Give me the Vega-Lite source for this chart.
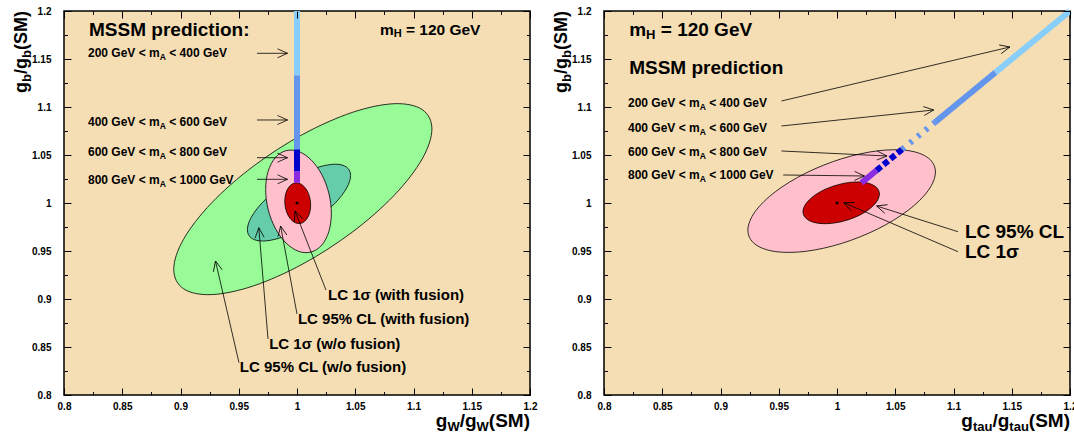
{
"$schema": "https://vega.github.io/schema/vega-lite/v6.json",
"padding": {"left": 12, "top": 5, "right": 0, "bottom": 0},
"spacing": 74,
"bounds": "flush",
"datasets": {
"ell": [
{"p":"L","s":"g","i":0,"x":1.1158,"y":1.0771},{"p":"L","s":"g","i":1,"x":1.10737,"y":1.09737},{"p":"L","s":"g","i":2,"x":1.08335,"y":1.10342},{"p":"L","s":"g","i":3,"x":1.0474,"y":1.09434},{"p":"L","s":"g","i":4,"x":1.005,"y":1.0715},{"p":"L","s":"g","i":5,"x":0.9626,"y":1.03838},{"p":"L","s":"g","i":6,"x":0.92665,"y":1.00004},{"p":"L","s":"g","i":7,"x":0.90263,"y":0.96229},{"p":"L","s":"g","i":8,"x":0.8942,"y":0.9309},{"p":"L","s":"g","i":9,"x":0.90263,"y":0.91063},{"p":"L","s":"g","i":10,"x":0.92665,"y":0.90458},{"p":"L","s":"g","i":11,"x":0.9626,"y":0.91366},{"p":"L","s":"g","i":12,"x":1.005,"y":0.9365},{"p":"L","s":"g","i":13,"x":1.0474,"y":0.96962},{"p":"L","s":"g","i":14,"x":1.08335,"y":1.00796},{"p":"L","s":"g","i":15,"x":1.10737,"y":1.04571},
{"p":"L","s":"t","i":0,"x":1.046,"y":1.0286},{"p":"L","s":"t","i":1,"x":1.04263,"y":1.03732},{"p":"L","s":"t","i":2,"x":1.03302,"y":1.04042},{"p":"L","s":"t","i":3,"x":1.01865,"y":1.03743},{"p":"L","s":"t","i":4,"x":1.0017,"y":1.0288},{"p":"L","s":"t","i":5,"x":0.98475,"y":1.01585},{"p":"L","s":"t","i":6,"x":0.97038,"y":1.00054},{"p":"L","s":"t","i":7,"x":0.96077,"y":0.98522},{"p":"L","s":"t","i":8,"x":0.9574,"y":0.9722},{"p":"L","s":"t","i":9,"x":0.96077,"y":0.96348},{"p":"L","s":"t","i":10,"x":0.97038,"y":0.96038},{"p":"L","s":"t","i":11,"x":0.98475,"y":0.96337},{"p":"L","s":"t","i":12,"x":1.0017,"y":0.972},{"p":"L","s":"t","i":13,"x":1.01865,"y":0.98495},{"p":"L","s":"t","i":14,"x":1.03302,"y":1.00026},{"p":"L","s":"t","i":15,"x":1.04263,"y":1.01558},
{"p":"L","s":"p","i":0,"x":1.0295,"y":0.9893},{"p":"L","s":"p","i":1,"x":1.02735,"y":1.01014},{"p":"L","s":"p","i":2,"x":1.02124,"y":1.0297},{"p":"L","s":"p","i":3,"x":1.01209,"y":1.04499},{"p":"L","s":"p","i":4,"x":1.0013,"y":1.0537},{"p":"L","s":"p","i":5,"x":0.99051,"y":1.05449},{"p":"L","s":"p","i":6,"x":0.98136,"y":1.04724},{"p":"L","s":"p","i":7,"x":0.97525,"y":1.03306},{"p":"L","s":"p","i":8,"x":0.9731,"y":1.0141},{"p":"L","s":"p","i":9,"x":0.97525,"y":0.99326},{"p":"L","s":"p","i":10,"x":0.98136,"y":0.9737},{"p":"L","s":"p","i":11,"x":0.99051,"y":0.95841},{"p":"L","s":"p","i":12,"x":1.0013,"y":0.9497},{"p":"L","s":"p","i":13,"x":1.01209,"y":0.94891},{"p":"L","s":"p","i":14,"x":1.02124,"y":0.95616},{"p":"L","s":"p","i":15,"x":1.02735,"y":0.97034},
{"p":"L","s":"r","i":0,"x":1.0117,"y":0.9978},{"p":"L","s":"r","i":1,"x":1.01086,"y":1.00602},{"p":"L","s":"r","i":2,"x":1.00845,"y":1.01331},{"p":"L","s":"r","i":3,"x":1.00485,"y":1.01852},{"p":"L","s":"r","i":4,"x":1.0006,"y":1.0209},{"p":"L","s":"r","i":5,"x":0.99635,"y":1.02006},{"p":"L","s":"r","i":6,"x":0.99275,"y":1.01613},{"p":"L","s":"r","i":7,"x":0.99034,"y":1.00972},{"p":"L","s":"r","i":8,"x":0.9895,"y":1.0018},{"p":"L","s":"r","i":9,"x":0.99034,"y":0.99358},{"p":"L","s":"r","i":10,"x":0.99275,"y":0.98629},{"p":"L","s":"r","i":11,"x":0.99635,"y":0.98108},{"p":"L","s":"r","i":12,"x":1.0006,"y":0.9787},{"p":"L","s":"r","i":13,"x":1.00485,"y":0.97954},{"p":"L","s":"r","i":14,"x":1.00845,"y":0.98347},{"p":"L","s":"r","i":15,"x":1.01086,"y":0.98988},
{"p":"R","s":"p","i":0,"x":1.0845,"y":1.0323},{"p":"R","s":"p","i":1,"x":1.07837,"y":1.04687},{"p":"R","s":"p","i":2,"x":1.06092,"y":1.05461},{"p":"R","s":"p","i":3,"x":1.03481,"y":1.05434},{"p":"R","s":"p","i":4,"x":1.004,"y":1.0461},{"p":"R","s":"p","i":5,"x":0.97319,"y":1.03114},{"p":"R","s":"p","i":6,"x":0.94708,"y":1.01175},{"p":"R","s":"p","i":7,"x":0.92963,"y":0.99089},{"p":"R","s":"p","i":8,"x":0.9235,"y":0.9717},{"p":"R","s":"p","i":9,"x":0.92963,"y":0.95713},{"p":"R","s":"p","i":10,"x":0.94708,"y":0.94939},{"p":"R","s":"p","i":11,"x":0.97319,"y":0.94966},{"p":"R","s":"p","i":12,"x":1.004,"y":0.9579},{"p":"R","s":"p","i":13,"x":1.03481,"y":0.97286},{"p":"R","s":"p","i":14,"x":1.06092,"y":0.99225},{"p":"R","s":"p","i":15,"x":1.07837,"y":1.01311},
{"p":"R","s":"r","i":0,"x":1.0364,"y":1.0094},{"p":"R","s":"r","i":1,"x":1.0339,"y":1.01624},{"p":"R","s":"r","i":2,"x":1.02679,"y":1.02064},{"p":"R","s":"r","i":3,"x":1.01615,"y":1.02192},{"p":"R","s":"r","i":4,"x":1.0036,"y":1.0199},{"p":"R","s":"r","i":5,"x":0.99105,"y":1.01488},{"p":"R","s":"r","i":6,"x":0.98041,"y":1.00762},{"p":"R","s":"r","i":7,"x":0.9733,"y":0.99924},{"p":"R","s":"r","i":8,"x":0.9708,"y":0.991},{"p":"R","s":"r","i":9,"x":0.9733,"y":0.98416},{"p":"R","s":"r","i":10,"x":0.98041,"y":0.97976},{"p":"R","s":"r","i":11,"x":0.99105,"y":0.97848},{"p":"R","s":"r","i":12,"x":1.0036,"y":0.9805},{"p":"R","s":"r","i":13,"x":1.01615,"y":0.98552},{"p":"R","s":"r","i":14,"x":1.02679,"y":0.99278},{"p":"R","s":"r","i":15,"x":1.0339,"y":1.00116}
],
"seg": [
{"p":"L","b":"pu","pat":"s","x":1,"y":1.021,"x2":1,"y2":1.033},
{"p":"L","b":"mb","pat":"s","x":1,"y":1.033,"x2":1,"y2":1.056},
{"p":"L","b":"cf","pat":"s","x":1,"y":1.056,"x2":1,"y2":1.133},
{"p":"L","b":"lb","pat":"s","x":1,"y":1.133,"x2":1,"y2":1.2},
{"p":"R","b":"pu","pat":"s","x":1.021,"y":1.021,"x2":1.034,"y2":1.034},
{"p":"R","b":"mb","pat":"d","x":1.034,"y":1.034,"x2":1.056,"y2":1.056},
{"p":"R","b":"cf","pat":"o","x":1.056,"y":1.056,"x2":1.084,"y2":1.084},
{"p":"R","b":"cf","pat":"s","x":1.084,"y":1.084,"x2":1.136,"y2":1.136},
{"p":"R","b":"lb","pat":"s","x":1.136,"y":1.136,"x2":1.2,"y2":1.2}
],
"arr": [
{"p":"L","x":0.96567,"y":1.15594,"x2":0.99185,"y2":1.15594,"ang":0},
{"p":"L","x":0.96567,"y":1.08646,"x2":0.99185,"y2":1.08646,"ang":0},
{"p":"L","x":0.96567,"y":1.04719,"x2":0.99185,"y2":1.04719,"ang":0},
{"p":"L","x":0.96567,"y":1.02469,"x2":0.99185,"y2":1.02469,"ang":0},
{"p":"L","x":1.02489,"y":0.90938,"x2":0.99828,"y2":0.99167,"ang":248.6},
{"p":"L","x":1.0,"y":0.88438,"x2":0.98592,"y2":0.97604,"ang":259.4},
{"p":"L","x":0.97511,"y":0.85833,"x2":0.96721,"y2":0.97427,"ang":265.3},
{"p":"L","x":0.95021,"y":0.83365,"x2":0.93004,"y2":0.93958,"ang":257},
{"p":"R","x":0.95236,"y":1.10625,"x2":1.14841,"y2":1.1625,"ang":346.7},
{"p":"R","x":0.95236,"y":1.08021,"x2":1.083,"y2":1.09688,"ang":354},
{"p":"R","x":0.95236,"y":1.05417,"x2":1.04292,"y2":1.04896,"ang":2.7},
{"p":"R","x":0.95382,"y":1.02917,"x2":1.02361,"y2":1.02813,"ang":0.7},
{"p":"R","x":1.10386,"y":0.9701,"x2":1.03399,"y2":0.99688,"ang":197.5},
{"p":"R","x":1.10386,"y":0.94927,"x2":1.00584,"y2":1.00031,"ang":203.2}
],
"star": [{"p":"L","x":1,"y":1},{"p":"R","x":1,"y":1}],
"txt": [
{"p":"L","t":"MSSM prediction:","k":"big","x":0.8215,"y":1.1802},
{"p":"L","t":"m","k":"mh","x":1.07116,"y":1.1799},
{"p":"L","t":"H","k":"mhs","x":1.08301,"y":1.1757},
{"p":"L","t":"= 120 GeV","k":"mh","x":1.09348,"y":1.1799},
{"p":"L","t":"200 GeV < m","k":"ma","x":0.8206,"y":1.15594},
{"p":"L","t":"A","k":"mas","x":0.88216,"y":1.15194},
{"p":"L","t":"< 400 GeV","k":"ma","x":0.89029,"y":1.15594},
{"p":"L","t":"400 GeV < m","k":"ma","x":0.8206,"y":1.08438},
{"p":"L","t":"A","k":"mas","x":0.88216,"y":1.08038},
{"p":"L","t":"< 600 GeV","k":"ma","x":0.89029,"y":1.08438},
{"p":"L","t":"600 GeV < m","k":"ma","x":0.8206,"y":1.05344},
{"p":"L","t":"A","k":"mas","x":0.88216,"y":1.04944},
{"p":"L","t":"< 800 GeV","k":"ma","x":0.89029,"y":1.05344},
{"p":"L","t":"800 GeV < m","k":"ma","x":0.8206,"y":1.02396},
{"p":"L","t":"A","k":"mas","x":0.88216,"y":1.01996},
{"p":"L","t":"< 1000 GeV","k":"ma","x":0.89029,"y":1.02396},
{"p":"L","t":"LC 1σ (with fusion)","k":"lc","x":1.02661,"y":0.90385},
{"p":"L","t":"LC 95% CL (with fusion)","k":"lc","x":1.00077,"y":0.87885},
{"p":"L","t":"LC 1σ (w/o fusion)","k":"lc","x":0.97614,"y":0.85344},
{"p":"L","t":"LC 95% CL (w/o fusion)","k":"lc","x":0.9509,"y":0.82917},
{"p":"R","t":"m","k":"mhR","x":0.82163,"y":1.1799},
{"p":"R","t":"H","k":"mhRs","x":0.83613,"y":1.1747},
{"p":"R","t":"= 120 GeV","k":"mhR","x":0.84872,"y":1.1799},
{"p":"R","t":"MSSM prediction","k":"big","x":0.82163,"y":1.14094},
{"p":"R","t":"200 GeV < m","k":"ma","x":0.8206,"y":1.10385},
{"p":"R","t":"A","k":"mas","x":0.88216,"y":1.09985},
{"p":"R","t":"< 400 GeV","k":"ma","x":0.89029,"y":1.10385},
{"p":"R","t":"400 GeV < m","k":"ma","x":0.8206,"y":1.07844},
{"p":"R","t":"A","k":"mas","x":0.88216,"y":1.07444},
{"p":"R","t":"< 600 GeV","k":"ma","x":0.89029,"y":1.07844},
{"p":"R","t":"600 GeV < m","k":"ma","x":0.8206,"y":1.05344},
{"p":"R","t":"A","k":"mas","x":0.88216,"y":1.04944},
{"p":"R","t":"< 800 GeV","k":"ma","x":0.89029,"y":1.05344},
{"p":"R","t":"800 GeV < m","k":"ma","x":0.8206,"y":1.02917},
{"p":"R","t":"A","k":"mas","x":0.88216,"y":1.02517},
{"p":"R","t":"< 1000 GeV","k":"ma","x":0.89029,"y":1.02917},
{"p":"R","t":"LC 95% CL","k":"lcR","x":1.10979,"y":0.9701},
{"p":"R","t":"LC 1σ","k":"lcR","x":1.10979,"y":0.94927}
],
"ttl": [
{"p":"L","ax":"x","t":"(SM)","k":"xt","x":1.2,"y":0.76667},
{"p":"L","ax":"x","t":"W","k":"xts","x":1.16468,"y":0.7625},
{"p":"L","ax":"x","t":"/g","k":"xt","x":1.15415,"y":0.76667},
{"p":"L","ax":"x","t":"W","k":"xts","x":1.13965,"y":0.7625},
{"p":"L","ax":"x","t":"g","k":"xt","x":1.12912,"y":0.76667},
{"p":"R","ax":"x","t":"(SM)","k":"xt","x":1.2,"y":0.76667},
{"p":"R","ax":"x","t":"tau","k":"xts","x":1.16468,"y":0.7625},
{"p":"R","ax":"x","t":"/g","k":"xt","x":1.14794,"y":0.76667},
{"p":"R","ax":"x","t":"tau","k":"xts","x":1.13344,"y":0.7625},
{"p":"R","ax":"x","t":"g","k":"xt","x":1.1167,"y":0.76667},
{"p":"L","ax":"y","t":"(SM)","k":"yt","x":0.76824,"y":1.2},
{"p":"L","ax":"y","t":"b","k":"yts","x":0.77167,"y":1.15938},
{"p":"L","ax":"y","t":"/g","k":"yt","x":0.76824,"y":1.1511},
{"p":"L","ax":"y","t":"b","k":"yts","x":0.77167,"y":1.13444},
{"p":"L","ax":"y","t":"g","k":"yt","x":0.76824,"y":1.12617},
{"p":"R","ax":"y","t":"(SM)","k":"yt","x":0.76824,"y":1.2},
{"p":"R","ax":"y","t":"b","k":"yts","x":0.77167,"y":1.15938},
{"p":"R","ax":"y","t":"/g","k":"yt","x":0.76824,"y":1.1511},
{"p":"R","ax":"y","t":"b","k":"yts","x":0.77167,"y":1.13444},
{"p":"R","ax":"y","t":"g","k":"yt","x":0.76824,"y":1.12617}
]
},
"hconcat": [
{
"width": 466, "height": 384,
"layer": [
{"data": {"name": "ell"}, "transform": [{"filter": "datum.p == 'L'"}],
 "mark": {"type": "line", "interpolate": "cardinal-closed", "stroke": "black", "strokeWidth": 0.8},
 "encoding": {
  "x": {"field": "x", "type": "quantitative", "scale": {"domain": [0.8, 1.2], "nice": false, "zero": false},
        "axis": {"orient": "bottom", "values": [0.8,0.825,0.85,0.875,0.9,0.925,0.95,0.975,1,1.025,1.05,1.075,1.1,1.125,1.15,1.175,1.2], "tickSize": {"condition": {"test": "round(datum.value*1000) % 50 == 0", "value": -7}, "value": -3.5}, "labelExpr": "round(datum.value*1000) % 50 == 0 ? '' + datum.value : ''", "labelPadding": 13, "labelFont": "Liberation Sans", "labelFontWeight": "bold", "labelFontSize": 10, "labelColor": "black", "tickColor": "black", "tickWidth": 1, "domain": false, "grid": false, "title": null, "labelOverlap": false, "labelFlush": false, "zindex": 1}},
  "y": {"field": "y", "type": "quantitative", "scale": {"domain": [0.8, 1.2], "nice": false, "zero": false},
        "axis": {"orient": "left", "values": [0.8,0.825,0.85,0.875,0.9,0.925,0.95,0.975,1,1.025,1.05,1.075,1.1,1.125,1.15,1.175,1.2], "tickSize": {"condition": {"test": "round(datum.value*1000) % 50 == 0", "value": -7}, "value": -3.5}, "labelExpr": "round(datum.value*1000) % 50 == 0 ? '' + datum.value : ''", "labelPadding": 20, "labelFont": "Liberation Sans", "labelFontWeight": "bold", "labelFontSize": 10, "labelColor": "black", "tickColor": "black", "tickWidth": 1, "domain": false, "grid": false, "title": null, "labelOverlap": false, "labelFlush": false, "zindex": 1}},
  "fill": {"field": "s", "type": "nominal", "scale": {"domain": ["g","t","p","r"], "range": ["#98fb98","#66cdaa","#ffc0cb","#cc0000"]}, "legend": null},
  "order": {"field": "i", "type": "quantitative"}
 }},
{"data": {"name": "seg"}, "transform": [{"filter": "datum.p == 'L'"}],
 "mark": {"type": "rule", "strokeWidth": 6, "strokeCap": "butt"},
 "encoding": {
  "x": {"field": "x", "type": "quantitative", "scale": {"domain": [0.8, 1.2], "nice": false, "zero": false}, "axis": null},
  "y": {"field": "y", "type": "quantitative", "scale": {"domain": [0.8, 1.2], "nice": false, "zero": false}, "axis": null},
  "x2": {"field": "x2"}, "y2": {"field": "y2"},
  "color": {"field": "b", "type": "nominal", "scale": {"domain": ["lb","cf","mb","pu"], "range": ["#87cefa","#6495ed","#0000cd","#8a2be2"]}, "legend": null},
  "strokeDash": {"field": "pat", "type": "nominal", "scale": {"domain": ["s","d","o"], "range": [[1,0],[6,3],[3,7]]}, "legend": null}
 }},
{"data": {"name": "arr"}, "transform": [{"filter": "datum.p == 'L'"}],
 "mark": {"type": "rule", "strokeWidth": 0.8, "color": "black"},
 "encoding": {
  "x": {"field": "x", "type": "quantitative", "scale": {"domain": [0.8, 1.2], "nice": false, "zero": false}, "axis": null},
  "y": {"field": "y", "type": "quantitative", "scale": {"domain": [0.8, 1.2], "nice": false, "zero": false}, "axis": null},
  "x2": {"field": "x2"}, "y2": {"field": "y2"}
 }},
{"data": {"name": "arr"}, "transform": [{"filter": "datum.p == 'L'"}],
 "mark": {"type": "point", "shape": "M-2,-0.9L0,0L-2,0.9", "filled": false, "color": "black", "strokeWidth": 0.8, "size": 100, "opacity": 1},
 "encoding": {
  "x": {"field": "x2", "type": "quantitative", "scale": {"domain": [0.8, 1.2], "nice": false, "zero": false}, "axis": null},
  "y": {"field": "y2", "type": "quantitative", "scale": {"domain": [0.8, 1.2], "nice": false, "zero": false}, "axis": null},
  "angle": {"field": "ang", "type": "quantitative", "scale": null}
 }},
{"data": {"name": "star"}, "transform": [{"filter": "datum.p == 'L'"}],
 "mark": {"type": "point", "shape": "cross", "filled": true, "color": "black", "size": 10, "opacity": 1},
 "encoding": {
  "x": {"field": "x", "type": "quantitative", "scale": {"domain": [0.8, 1.2], "nice": false, "zero": false},
        "axis": {"orient": "top", "values": [0.8,0.825,0.85,0.875,0.9,0.925,0.95,0.975,1,1.025,1.05,1.075,1.1,1.125,1.15,1.175,1.2], "tickSize": {"condition": {"test": "round(datum.value*1000) % 50 == 0", "value": -7}, "value": -3.5}, "labels": false, "tickColor": "black", "tickWidth": 1, "domain": false, "grid": false, "title": null, "zindex": 1}},
  "y": {"field": "y", "type": "quantitative", "scale": {"domain": [0.8, 1.2], "nice": false, "zero": false},
        "axis": {"orient": "right", "values": [0.8,0.825,0.85,0.875,0.9,0.925,0.95,0.975,1,1.025,1.05,1.075,1.1,1.125,1.15,1.175,1.2], "tickSize": {"condition": {"test": "round(datum.value*1000) % 50 == 0", "value": -7}, "value": -3.5}, "labels": false, "tickColor": "black", "tickWidth": 1, "domain": false, "grid": false, "title": null, "zindex": 1}}
 }},
{"data": {"name": "txt"}, "transform": [{"filter": "datum.p == 'L'"}],
 "mark": {"type": "text", "align": "left", "baseline": "middle", "font": "Liberation Sans", "fontWeight": "bold", "color": "black"},
 "encoding": {
  "x": {"field": "x", "type": "quantitative", "scale": {"domain": [0.8, 1.2], "nice": false, "zero": false}, "axis": null},
  "y": {"field": "y", "type": "quantitative", "scale": {"domain": [0.8, 1.2], "nice": false, "zero": false}, "axis": null},
  "text": {"field": "t"},
  "size": {"field": "k", "type": "nominal", "scale": {"type": "ordinal", "domain": ["big","mh","mhs","mhR","mhRs","ma","mas","lc","lcR","xt","xts","yt","yts"], "range": [19,15.5,11,19,13,12,8.5,15,19,19,13,18,13]}, "legend": null}
 }},
{"data": {"name": "ttl"}, "transform": [{"filter": "datum.p == 'L' && datum.ax == 'x'"}],
 "mark": {"type": "text", "align": "right", "baseline": "alphabetic", "font": "Liberation Sans", "fontWeight": "bold", "color": "black"},
 "encoding": {
  "x": {"field": "x", "type": "quantitative", "scale": {"domain": [0.8, 1.2], "nice": false, "zero": false}, "axis": null},
  "y": {"field": "y", "type": "quantitative", "scale": {"domain": [0.8, 1.2], "nice": false, "zero": false}, "axis": null},
  "text": {"field": "t"},
  "size": {"field": "k", "type": "nominal", "scale": {"type": "ordinal", "domain": ["big","mh","mhs","mhR","mhRs","ma","mas","lc","lcR","xt","xts","yt","yts"], "range": [19,15.5,11,19,13,12,8.5,15,19,19,13,18,13]}, "legend": null}
 }},
{"data": {"name": "ttl"}, "transform": [{"filter": "datum.p == 'L' && datum.ax == 'y'"}],
 "mark": {"type": "text", "align": "right", "baseline": "alphabetic", "angle": 270, "font": "Liberation Sans", "fontWeight": "bold", "color": "black"},
 "encoding": {
  "x": {"field": "x", "type": "quantitative", "scale": {"domain": [0.8, 1.2], "nice": false, "zero": false}, "axis": null},
  "y": {"field": "y", "type": "quantitative", "scale": {"domain": [0.8, 1.2], "nice": false, "zero": false}, "axis": null},
  "text": {"field": "t"},
  "size": {"field": "k", "type": "nominal", "scale": {"type": "ordinal", "domain": ["big","mh","mhs","mhR","mhRs","ma","mas","lc","lcR","xt","xts","yt","yts"], "range": [19,15.5,11,19,13,12,8.5,15,19,19,13,18,13]}, "legend": null}
 }}
],
"resolve": {"axis": {"x": "independent", "y": "independent"}}
},
{
"width": 466, "height": 384,
"layer": [
{"data": {"name": "ell"}, "transform": [{"filter": "datum.p == 'R'"}],
 "mark": {"type": "line", "interpolate": "cardinal-closed", "stroke": "black", "strokeWidth": 0.8},
 "encoding": {
  "x": {"field": "x", "type": "quantitative", "scale": {"domain": [0.8, 1.2], "nice": false, "zero": false},
        "axis": {"orient": "bottom", "values": [0.8,0.825,0.85,0.875,0.9,0.925,0.95,0.975,1,1.025,1.05,1.075,1.1,1.125,1.15,1.175,1.2], "tickSize": {"condition": {"test": "round(datum.value*1000) % 50 == 0", "value": -7}, "value": -3.5}, "labelExpr": "round(datum.value*1000) % 50 == 0 ? '' + datum.value : ''", "labelPadding": 13, "labelFont": "Liberation Sans", "labelFontWeight": "bold", "labelFontSize": 10, "labelColor": "black", "tickColor": "black", "tickWidth": 1, "domain": false, "grid": false, "title": null, "labelOverlap": false, "labelFlush": false, "zindex": 1}},
  "y": {"field": "y", "type": "quantitative", "scale": {"domain": [0.8, 1.2], "nice": false, "zero": false},
        "axis": {"orient": "left", "values": [0.8,0.825,0.85,0.875,0.9,0.925,0.95,0.975,1,1.025,1.05,1.075,1.1,1.125,1.15,1.175,1.2], "tickSize": {"condition": {"test": "round(datum.value*1000) % 50 == 0", "value": -7}, "value": -3.5}, "labelExpr": "round(datum.value*1000) % 50 == 0 ? '' + datum.value : ''", "labelPadding": 20, "labelFont": "Liberation Sans", "labelFontWeight": "bold", "labelFontSize": 10, "labelColor": "black", "tickColor": "black", "tickWidth": 1, "domain": false, "grid": false, "title": null, "labelOverlap": false, "labelFlush": false, "zindex": 1}},
  "fill": {"field": "s", "type": "nominal", "scale": {"domain": ["g","t","p","r"], "range": ["#98fb98","#66cdaa","#ffc0cb","#cc0000"]}, "legend": null},
  "order": {"field": "i", "type": "quantitative"}
 }},
{"data": {"name": "seg"}, "transform": [{"filter": "datum.p == 'R'"}],
 "mark": {"type": "rule", "strokeWidth": 6, "strokeCap": "butt"},
 "encoding": {
  "x": {"field": "x", "type": "quantitative", "scale": {"domain": [0.8, 1.2], "nice": false, "zero": false}, "axis": null},
  "y": {"field": "y", "type": "quantitative", "scale": {"domain": [0.8, 1.2], "nice": false, "zero": false}, "axis": null},
  "x2": {"field": "x2"}, "y2": {"field": "y2"},
  "color": {"field": "b", "type": "nominal", "scale": {"domain": ["lb","cf","mb","pu"], "range": ["#87cefa","#6495ed","#0000cd","#8a2be2"]}, "legend": null},
  "strokeDash": {"field": "pat", "type": "nominal", "scale": {"domain": ["s","d","o"], "range": [[1,0],[6,3],[3,7]]}, "legend": null}
 }},
{"data": {"name": "arr"}, "transform": [{"filter": "datum.p == 'R'"}],
 "mark": {"type": "rule", "strokeWidth": 0.8, "color": "black"},
 "encoding": {
  "x": {"field": "x", "type": "quantitative", "scale": {"domain": [0.8, 1.2], "nice": false, "zero": false}, "axis": null},
  "y": {"field": "y", "type": "quantitative", "scale": {"domain": [0.8, 1.2], "nice": false, "zero": false}, "axis": null},
  "x2": {"field": "x2"}, "y2": {"field": "y2"}
 }},
{"data": {"name": "arr"}, "transform": [{"filter": "datum.p == 'R'"}],
 "mark": {"type": "point", "shape": "M-2,-0.9L0,0L-2,0.9", "filled": false, "color": "black", "strokeWidth": 0.8, "size": 100, "opacity": 1},
 "encoding": {
  "x": {"field": "x2", "type": "quantitative", "scale": {"domain": [0.8, 1.2], "nice": false, "zero": false}, "axis": null},
  "y": {"field": "y2", "type": "quantitative", "scale": {"domain": [0.8, 1.2], "nice": false, "zero": false}, "axis": null},
  "angle": {"field": "ang", "type": "quantitative", "scale": null}
 }},
{"data": {"name": "star"}, "transform": [{"filter": "datum.p == 'R'"}],
 "mark": {"type": "point", "shape": "cross", "filled": true, "color": "black", "size": 10, "opacity": 1},
 "encoding": {
  "x": {"field": "x", "type": "quantitative", "scale": {"domain": [0.8, 1.2], "nice": false, "zero": false},
        "axis": {"orient": "top", "values": [0.8,0.825,0.85,0.875,0.9,0.925,0.95,0.975,1,1.025,1.05,1.075,1.1,1.125,1.15,1.175,1.2], "tickSize": {"condition": {"test": "round(datum.value*1000) % 50 == 0", "value": -7}, "value": -3.5}, "labels": false, "tickColor": "black", "tickWidth": 1, "domain": false, "grid": false, "title": null, "zindex": 1}},
  "y": {"field": "y", "type": "quantitative", "scale": {"domain": [0.8, 1.2], "nice": false, "zero": false},
        "axis": {"orient": "right", "values": [0.8,0.825,0.85,0.875,0.9,0.925,0.95,0.975,1,1.025,1.05,1.075,1.1,1.125,1.15,1.175,1.2], "tickSize": {"condition": {"test": "round(datum.value*1000) % 50 == 0", "value": -7}, "value": -3.5}, "labels": false, "tickColor": "black", "tickWidth": 1, "domain": false, "grid": false, "title": null, "zindex": 1}}
 }},
{"data": {"name": "txt"}, "transform": [{"filter": "datum.p == 'R'"}],
 "mark": {"type": "text", "align": "left", "baseline": "middle", "font": "Liberation Sans", "fontWeight": "bold", "color": "black"},
 "encoding": {
  "x": {"field": "x", "type": "quantitative", "scale": {"domain": [0.8, 1.2], "nice": false, "zero": false}, "axis": null},
  "y": {"field": "y", "type": "quantitative", "scale": {"domain": [0.8, 1.2], "nice": false, "zero": false}, "axis": null},
  "text": {"field": "t"},
  "size": {"field": "k", "type": "nominal", "scale": {"type": "ordinal", "domain": ["big","mh","mhs","mhR","mhRs","ma","mas","lc","lcR","xt","xts","yt","yts"], "range": [19,15.5,11,19,13,12,8.5,15,19,19,13,18,13]}, "legend": null}
 }},
{"data": {"name": "ttl"}, "transform": [{"filter": "datum.p == 'R' && datum.ax == 'x'"}],
 "mark": {"type": "text", "align": "right", "baseline": "alphabetic", "font": "Liberation Sans", "fontWeight": "bold", "color": "black"},
 "encoding": {
  "x": {"field": "x", "type": "quantitative", "scale": {"domain": [0.8, 1.2], "nice": false, "zero": false}, "axis": null},
  "y": {"field": "y", "type": "quantitative", "scale": {"domain": [0.8, 1.2], "nice": false, "zero": false}, "axis": null},
  "text": {"field": "t"},
  "size": {"field": "k", "type": "nominal", "scale": {"type": "ordinal", "domain": ["big","mh","mhs","mhR","mhRs","ma","mas","lc","lcR","xt","xts","yt","yts"], "range": [19,15.5,11,19,13,12,8.5,15,19,19,13,18,13]}, "legend": null}
 }},
{"data": {"name": "ttl"}, "transform": [{"filter": "datum.p == 'R' && datum.ax == 'y'"}],
 "mark": {"type": "text", "align": "right", "baseline": "alphabetic", "angle": 270, "font": "Liberation Sans", "fontWeight": "bold", "color": "black"},
 "encoding": {
  "x": {"field": "x", "type": "quantitative", "scale": {"domain": [0.8, 1.2], "nice": false, "zero": false}, "axis": null},
  "y": {"field": "y", "type": "quantitative", "scale": {"domain": [0.8, 1.2], "nice": false, "zero": false}, "axis": null},
  "text": {"field": "t"},
  "size": {"field": "k", "type": "nominal", "scale": {"type": "ordinal", "domain": ["big","mh","mhs","mhR","mhRs","ma","mas","lc","lcR","xt","xts","yt","yts"], "range": [19,15.5,11,19,13,12,8.5,15,19,19,13,18,13]}, "legend": null}
 }}
],
"resolve": {"axis": {"x": "independent", "y": "independent"}}
}
],
"config": {
 "background": "white",
 "view": {"fill": "#f5deb3", "stroke": "black", "strokeWidth": 1.5},
 "font": "Liberation Sans"
}
}
